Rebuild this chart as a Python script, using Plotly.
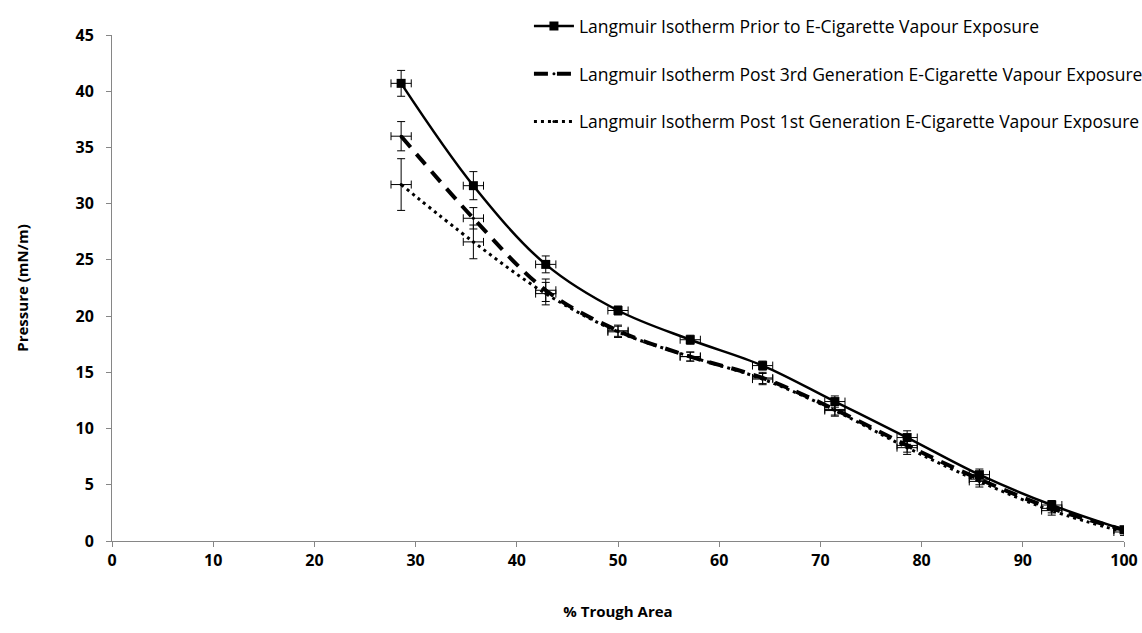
import plotly.graph_objects as go

trough_area = [28.57, 35.71, 42.86, 50.0, 57.14, 64.29, 71.43, 78.57, 85.71, 92.86, 100.0]

prior = [40.7, 31.6, 24.6, 20.5, 17.9, 15.6, 12.4, 9.2, 5.9, 3.2, 1.0]
prior_err = [1.15, 1.25, 0.75, 0.4, 0.4, 0.4, 0.5, 0.6, 0.5, 0.4, 0.3]

gen3 = [36.0, 28.7, 22.3, 18.7, 16.4, 14.5, 11.7, 8.5, 5.5, 2.9, 1.0]
gen3_err = [1.3, 0.95, 1.0, 0.5, 0.4, 0.5, 0.5, 0.6, 0.5, 0.4, 0.3]

gen1 = [31.7, 26.6, 22.0, 18.6, 16.4, 14.4, 11.6, 8.3, 5.3, 2.7, 0.8]
gen1_err = [2.3, 1.5, 1.0, 0.5, 0.4, 0.5, 0.5, 0.6, 0.5, 0.4, 0.3]

x_err = [1.0] * len(trough_area)

names = [
    "Langmuir Isotherm Prior to E-Cigarette Vapour Exposure",
    "Langmuir Isotherm Post 3rd Generation E-Cigarette Vapour Exposure",
    "Langmuir Isotherm Post 1st Generation E-Cigarette Vapour Exposure",
]

fig = go.Figure()

def err(arr):
    return dict(type="data", array=arr, visible=True, color="black", thickness=1, width=4)

fig.add_trace(go.Scatter(
    x=trough_area, y=prior, name=names[0], mode="lines+markers", legendgroup="a",
    line=dict(color="black", width=2.5, shape="spline"),
    marker=dict(symbol="square", size=9, color="black"),
    error_y=err(prior_err), error_x=err(x_err),
))
fig.add_trace(go.Scatter(
    x=trough_area, y=gen3, name=names[1], mode="lines+markers", legendgroup="b",
    line=dict(color="black", width=4, shape="spline", dash="14px,9px"),
    marker=dict(symbol="circle", size=3, color="black"),
    error_y=err(gen3_err), error_x=err(x_err),
))
fig.add_trace(go.Scatter(
    x=trough_area, y=gen1, name=names[2], mode="lines+markers", legendgroup="c",
    line=dict(color="black", width=3, shape="spline", dash="3px,4px"),
    marker=dict(symbol="circle", size=3, color="black"),
    error_y=err(gen1_err), error_x=err(x_err),
))

tick_font = dict(family="Open Sans", size=16, color="black", weight="bold")

fig.update_layout(
    width=1142, height=633,
    margin=dict(l=112, r=18, t=35, b=92, autoexpand=False),
    plot_bgcolor="white", paper_bgcolor="white",
    font=dict(family="Open Sans", size=14, color="black"),
    showlegend=True,
    legend=dict(
        x=0.412, y=1.053, xanchor="left", yanchor="top",
        bgcolor="rgba(0,0,0,0)", tracegroupgap=22,
        font=dict(family="Open Sans", size=17.5, color="black"),
        itemwidth=40,
    ),
    xaxis=dict(
        range=[0, 100], tickvals=list(range(0, 101, 10)),
        showline=True, linecolor="#868686", linewidth=1,
        ticks="outside", ticklen=5, tickcolor="#868686",
        showgrid=False, zeroline=False,
        tickfont=tick_font,
        title=dict(text="<b>% Trough Area</b>", standoff=36,
                   font=dict(family="Open Sans", size=15, color="black")),
    ),
    yaxis=dict(
        range=[0, 45], tickvals=list(range(0, 46, 5)),
        showline=True, linecolor="#868686", linewidth=1,
        ticks="outside", ticklen=5, tickcolor="#868686",
        ticklabelstandoff=9,
        showgrid=False, zeroline=False,
        tickfont=tick_font,
        title=dict(text="<b>Pressure (mN/m)</b>", standoff=43,
                   font=dict(family="Open Sans", size=15, color="black")),
    ),
)

fig.write_html("out.html")
